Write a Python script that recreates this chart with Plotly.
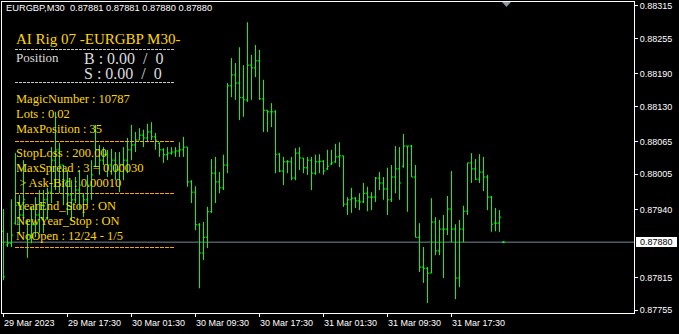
import plotly.graph_objects as go

# ---------------- data (prices in 1e-5 points) ----------------
bar_index = list(range(126))

opens = [87900, 87875, 87878, 87915, 87948, 87930, 87915, 87893, 87912, 87930,
         87948, 87958, 87972, 88031, 88050, 88022, 87994, 87967, 87958, 87976,
         87965, 87958, 87985, 88020, 88050, 88031, 88041, 88022, 88031, 88013,
         88022, 88031, 88050, 88059, 88068, 88077, 88072, 88083, 88074, 88062,
         88050, 88041, 88044, 88046, 88048, 88050, 88055, 87991, 87972, 87912,
         87860, 87889, 87936, 88007, 87991, 87980, 88022, 88168, 88188, 88173,
         88146, 88142, 88206, 88201, 88214, 88144, 88123, 88120, 88120, 88042,
         88011, 88028, 88028, 87998, 88044, 88035, 88017, 88031, 88007, 88028,
         88029, 88015, 88024, 88028, 88037, 88039, 87950, 87958, 87961, 87956,
         87954, 87970, 87963, 87963, 87998, 87989, 87978, 87958, 88000, 88015,
         88020, 88057, 88057, 88000, 87889, 87834, 87832, 87823, 87917, 87864,
         87904, 87904, 87941, 87904, 87814, 87904, 87937, 88026, 88015, 87996,
         88009, 88000, 87963, 87915, 87915, 87880]

highs = [87941, 87897, 87959, 88044, 87967, 88031, 87921, 87945, 87963, 87976,
         87976, 87980, 88055, 88120, 88063, 88022, 88013, 87994, 88000, 88013,
         87970, 88004, 88031, 88096, 88059, 88055, 88050, 88052, 88046, 88046,
         88055, 88072, 88096, 88083, 88090, 88087, 88098, 88101, 88081, 88064,
         88053, 88055, 88055, 88055, 88064, 88074, 88055, 87994, 87983, 87915,
         87917, 87945, 88033, 88037, 88009, 88041, 88173, 88219, 88210, 88239,
         88206, 88285, 88225, 88243, 88234, 88179, 88123, 88136, 88123, 88044,
         88037, 88031, 88037, 88053, 88055, 88035, 88037, 88037, 88041, 88042,
         88031, 88050, 88050, 88061, 88064, 88039, 87963, 87980, 87963, 87970,
         87989, 87982, 87972, 88000, 88009, 88000, 88017, 88022, 88057, 88055,
         88079, 88057, 88059, 88022, 87915, 87871, 87834, 87961, 87926, 87921,
         87930, 87965, 88011, 87913, 87921, 87947, 88026, 88044, 88033, 88042,
         88037, 88004, 87965, 87943, 87939, 87882]

lows = [87810, 87871, 87871, 87912, 87893, 87921, 87851, 87878, 87889, 87897,
        87897, 87921, 87952, 87976, 87970, 87948, 87930, 87921, 87952, 87939,
        87926, 87948, 87958, 88018, 88004, 88022, 88000, 88004, 87994, 87972,
        87994, 88007, 88031, 88046, 88068, 88055, 88064, 88068, 88050, 88037,
        88026, 88031, 88041, 88037, 88037, 88037, 87982, 87952, 87902, 87795,
        87847, 87869, 87934, 87952, 87970, 87976, 88007, 88147, 88142, 88105,
        88111, 88138, 88142, 88184, 88142, 88083, 88083, 88092, 88007, 88009,
        87985, 88007, 87994, 87994, 88013, 88007, 88004, 87976, 88004, 88007,
        88004, 88013, 88022, 88026, 88018, 87945, 87930, 87934, 87943, 87939,
        87952, 87937, 87939, 87954, 87976, 87958, 87930, 87954, 87970, 87958,
        88017, 87936, 88000, 87889, 87825, 87805, 87768, 87823, 87856, 87856,
        87814, 87893, 87880, 87775, 87797, 87880, 87930, 87989, 87994, 87989,
        87974, 87939, 87899, 87900, 87899, 87878]

closes = [87816, 87878, 87893, 87948, 87930, 87958, 87893, 87912, 87930, 87948,
          87958, 87972, 88031, 88050, 88022, 87994, 87967, 87958, 87976, 87985,
          87958, 87985, 88004, 88050, 88031, 88041, 88022, 88031, 88013, 88022,
          88031, 88050, 88059, 88068, 88077, 88072, 88083, 88074, 88068, 88050,
          88041, 88044, 88046, 88048, 88050, 88055, 87991, 87972, 87912, 87860,
          87889, 87936, 88007, 87991, 87980, 88022, 88168, 88188, 88173, 88146,
          88142, 88206, 88201, 88214, 88144, 88123, 88120, 88120, 88042, 88011,
          88028, 88028, 87998, 88044, 88035, 88017, 88031, 88007, 88028, 88029,
          88011, 88020, 88026, 88037, 88039, 87950, 87958, 87961, 87956, 87954,
          87970, 87963, 87963, 87998, 87989, 87978, 87958, 88000, 88015, 87989,
          88057, 88057, 88000, 87889, 87834, 87832, 87823, 87917, 87864, 87904,
          87904, 87941, 87904, 87814, 87904, 87937, 88026, 88015, 87996, 88009,
          88000, 87963, 87913, 87915, 87926, 87880]

x_tick_pos = [0, 16, 32, 48, 64, 80, 96, 112]
x_tick_labels = ["29 Mar 2023", "29 Mar 17:30", "30 Mar 01:30", "30 Mar 09:30",
                 "30 Mar 17:30", "31 Mar 01:30", "31 Mar 09:30", "31 Mar 17:30"]
y_tick_vals = [0.88315, 0.88255, 0.88190, 0.88130, 0.88065, 0.88005, 0.87940, 0.87815, 0.87755]
y_tick_labels = ["0.88315", "0.88255", "0.88190", "0.88130", "0.88065", "0.88005", "0.87940", "0.87815", "0.87755"]

header_text = "EURGBP,M30\u00a0\u00a00.87881 0.87881 0.87880 0.87880"
last_price = 0.87880
last_price_label = "0.87880"

panel_title = "AI Rig 07 -EURGBP M30-"
position_label = "Position"
position_buy = "B : 0.00\u00a0\u00a0/\u00a0\u00a00"
position_sell = "S : 0.00\u00a0\u00a0/\u00a0\u00a00"
settings_block1 = ["MagicNumber : 10787", "Lots : 0.02", "MaxPosition : 35"]
settings_block2 = ["StopLoss : 200.00", "MaxSpread : 3 = 0.00030", "\u00a0> Ask-Bid : 0.00010"]
settings_block3 = ["YearEnd_Stop : ON", "NewYear_Stop : ON", "NoOpen : 12/24 - 1/5"]

# ---------------- layout geometry ----------------
W, H = 679, 334
PL, PR, PT, PB = 2, 634, 2, 313
PW, PH = PR - PL, PB - PT


def px(x):
    return (x - PL) / PW


def py(y):
    return (PB - y) / PH


scale = 1e-5
o = [v * scale for v in opens]
h = [v * scale for v in highs]
l = [v * scale for v in lows]
c = [v * scale for v in closes]

GREEN = "#00FF00"
fig = go.Figure()
fig.add_trace(go.Ohlc(
    x=bar_index, open=o, high=h, low=l, close=c,
    increasing=dict(line=dict(color=GREEN, width=1)),
    decreasing=dict(line=dict(color=GREEN, width=1)),
    tickwidth=0.4, hoverinfo="skip", showlegend=False,
))

axis_font = dict(family="Liberation Sans, DejaVu Sans, sans-serif", size=9, color="white")

fig.update_layout(
    width=W, height=H,
    margin=dict(l=PL, r=W - PR, t=PT, b=H - PB, pad=0),
    paper_bgcolor="black", plot_bgcolor="black",
    showlegend=False,
    xaxis=dict(range=[-0.375, 157.625], rangeslider=dict(visible=False),
               showgrid=False, zeroline=False, showline=True, mirror=True,
               linecolor="white", linewidth=1, tickvals=x_tick_pos,
               ticks="outside", ticklen=3, tickcolor="white", showticklabels=False),
    yaxis=dict(range=[0.877495, 0.883223], side="right",
               showgrid=False, zeroline=False, showline=True, mirror=True,
               linecolor="white", linewidth=1, tickvals=y_tick_vals, ticktext=y_tick_labels,
               ticks="outside", ticklen=3, tickcolor="white", tickfont=axis_font),
)

shapes = []
# bid line
shapes.append(dict(type="line", xref="paper", x0=0, x1=1, yref="y", y0=last_price, y1=last_price,
                   line=dict(color="#778899", width=1), layer="below"))
# price box
shapes.append(dict(type="rect", xref="paper", x0=1 + 2 / PW, x1=1 + 43 / PW,
                   yref="paper", y0=py(247), y1=py(237), fillcolor="white", line=dict(width=0)))
# shift triangle
shapes.append(dict(type="path", xref="paper", yref="paper",
                   path=f"M {px(502)},{py(2)} L {px(511)},{py(2)} L {px(506.5)},{py(7)} Z",
                   fillcolor="#8a96a3", line=dict(width=0)))
# panel separators
for yy, col, dash in [(49, "#c8c8c8", "3px,1px"), (82, "#c8c8c8", "3px,1px"),
                      (141, "#FFA500", "4px,1px"), (193, "#FFA500", "4px,1px"),
                      (247, "#FFA500", "4px,1px")]:
    shapes.append(dict(type="line", xref="paper", yref="paper", x0=px(15), x1=px(175),
                       y0=py(yy + 0.5), y1=py(yy + 0.5), line=dict(color=col, width=1, dash=dash)))
fig.update_layout(shapes=shapes)

ann = []
# price box label
ann.append(dict(xref="paper", yref="paper", x=1 + 22.5 / PW, y=py(242), text=last_price_label,
                showarrow=False, xanchor="center", yanchor="middle",
                font=dict(family="Liberation Sans, DejaVu Sans, sans-serif", size=9, color="black")))
# x tick labels (left aligned at ticks)
for pos, lab in zip(x_tick_pos, x_tick_labels):
    ann.append(dict(xref="x", yref="paper", x=pos, y=py(322.5), text=lab, showarrow=False,
                    xanchor="left", yanchor="middle", xshift=-1.5, font=axis_font))
# header
ann.append(dict(xref="paper", yref="paper", x=px(4), y=py(7.5), text=header_text, showarrow=False,
                xanchor="left", yanchor="middle",
                font=dict(family="Liberation Sans, DejaVu Sans, sans-serif", size=9.3, color="white")))

SERIF = "Liberation Serif, Times New Roman, serif"
GOLD = "#FFD700"
GREYTXT = "#DCDCDC"


def text(x, y, s, size, color):
    ann.append(dict(xref="paper", yref="paper", x=px(x), y=py(y), text=s, showarrow=False,
                    xanchor="left", yanchor="middle", font=dict(family=SERIF, size=size, color=color)))


text(14, 38.5, panel_title, 15, GOLD)
text(14, 57, position_label, 13, GREYTXT)
text(82, 59, position_buy, 16, GREYTXT)
text(82, 73.5, position_sell, 16, GREYTXT)
for k, s in enumerate(settings_block1):
    text(14, 99 + 15 * k, s, 12.5, GOLD)
for k, s in enumerate(settings_block2):
    text(14, 153 + 15 * k, s, 12.5, GOLD)
for k, s in enumerate(settings_block3):
    text(14, 206 + 15 * k, s, 12.5, GOLD)

fig.update_layout(annotations=ann)
fig.write_html("out.html")
